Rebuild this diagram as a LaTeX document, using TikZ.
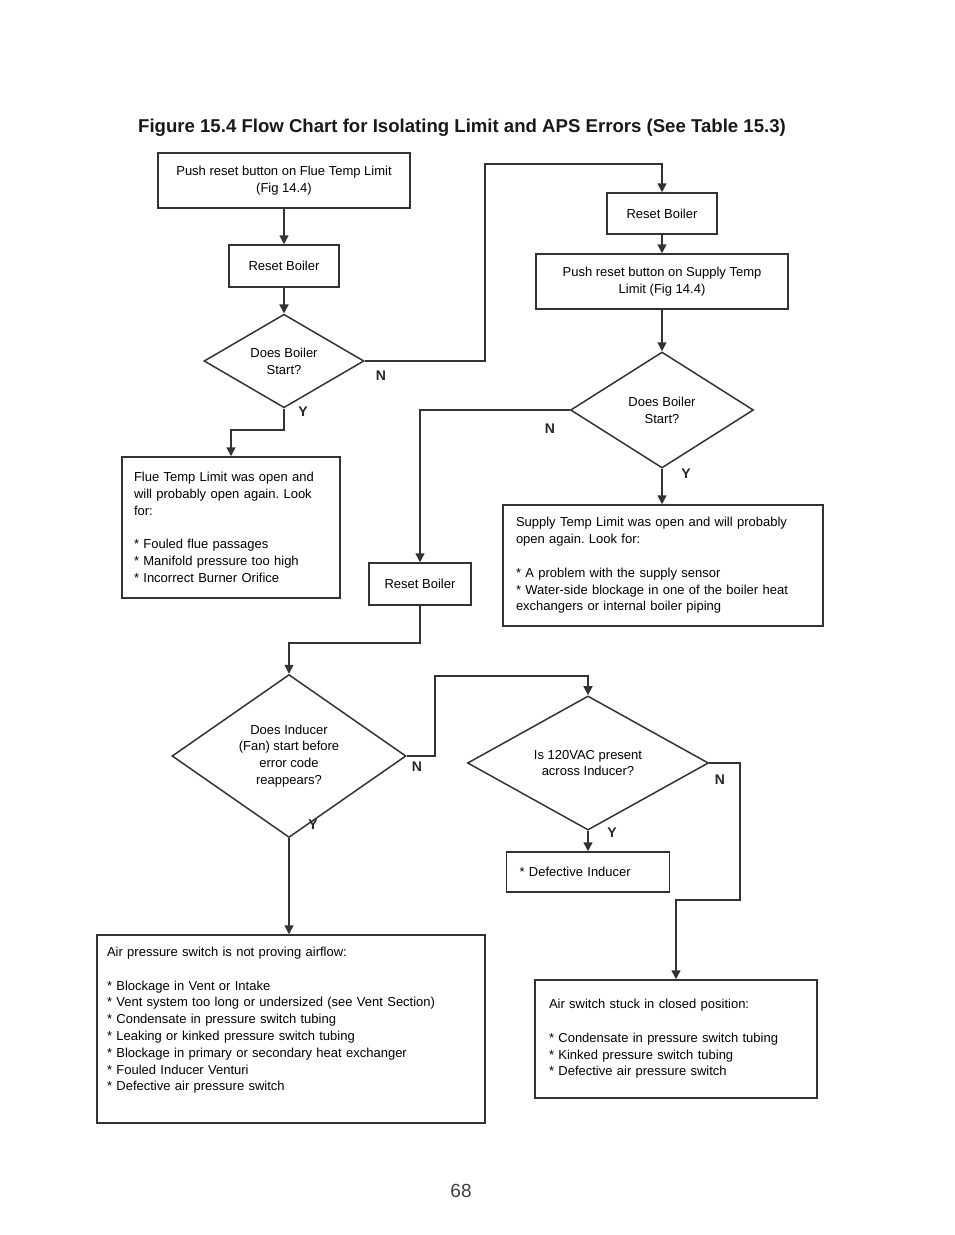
\documentclass[tikz,border=0pt]{standalone}
\usepackage{fontspec}
\setmainfont{Liberation Sans}
\usetikzlibrary{shapes.geometric,arrows.meta}
\frenchspacing
\begin{document}
\begin{tikzpicture}[x=1pt,y=-1pt,
  line/.style={draw=black!80,line width=1.5pt},
  arr/.style={line,-{Triangle[width=9pt,length=9pt]}},
  box/.style={draw=black!80,line width=1.5pt,rectangle,inner sep=0pt,font=\fontsize{13}{16.8}\selectfont\frenchspacing,align=center},
  tbox/.style={box,align=left},
  dia/.style={draw=black!80,line width=1.5pt,diamond,inner sep=0pt,font=\fontsize{13}{16.8}\selectfont,align=center},
  lab/.style={font=\bfseries\fontsize{14}{14}\selectfont,inner sep=0pt,text=black!85}]
\useasboundingbox[fill=white] (0,0) rectangle (954,1235);

\node[font=\bfseries\fontsize{18.6}{22}\selectfont,anchor=base,text=black!90] (title) at (462,132)
  {Figure 15.4 Flow Chart for Isolating Limit and APS Errors (See Table 15.3)};

% left column
\node[box,minimum width=252pt,minimum height=55pt] (A) at (284,180.5)
  {Push reset button on Flue Temp Limit\\(Fig 14.4)};
\node[box,minimum width=110pt,minimum height=42pt] (B) at (284,266) {Reset Boiler};
\node[dia,minimum width=160pt,minimum height=88pt] (D1) at (284,361) {Does Boiler\\Start?};
\node[tbox,minimum width=218pt,minimum height=141pt,text width=194pt,inner xsep=12pt] (FL) at (231,527.5)
  {Flue Temp Limit was open and\\will probably open again. Look\\for:\\[16.8pt]{*} Fouled flue passages\\{*} Manifold pressure too high\\{*} Incorrect Burner Orifice};

% right column
\node[box,minimum width=110pt,minimum height=41pt] (RB2) at (662,213.5) {Reset Boiler};
\node[box,minimum width=252pt,minimum height=55pt] (SP) at (662,281.5)
  {Push reset button on Supply Temp\\Limit (Fig 14.4)};
\node[dia,minimum width=183pt,minimum height=116pt] (D2) at (662,410) {Does Boiler\\Start?};
\node[tbox,minimum width=320pt,minimum height=121pt,text width=294pt,inner xsep=13pt] (ST) at (663,565.5)
  {Supply Temp Limit was open and will probably\\open again. Look for:\\[16.8pt]{*} A problem with the supply sensor\\{*} Water-side blockage in one of the boiler heat\\exchangers or internal boiler piping};
\node[box,minimum width=102pt,minimum height=42pt] (RB3) at (420,584) {Reset Boiler};

% lower part
\node[dia,minimum width=234pt,minimum height=141pt] (D3) at (289,756)
  {Does Inducer\\(Fan) start before\\error code\\reappears?};
\node[dia,minimum width=241pt,minimum height=115pt] (D4) at (588,763)
  {Is 120VAC present\\across Inducer?};
\node[tbox,minimum width=163pt,minimum height=40pt,text width=137pt,inner xsep=13pt] (DI) at (588,872)
  {{*} Defective Inducer};
\node[tbox,minimum width=388pt,minimum height=188pt,text width=368pt,inner xsep=10pt] (AP) at (291,1029)
  {Air pressure switch is not proving airflow:\\[16.8pt]{*} Blockage in Vent or Intake\\{*} Vent system too long or undersized (see Vent Section)\\{*} Condensate in pressure switch tubing\\{*} Leaking or kinked pressure switch tubing\\{*} Blockage in primary or secondary heat exchanger\\{*} Fouled Inducer Venturi\\{*} Defective air pressure switch\rule[-20pt]{0pt}{20pt}};
\node[tbox,minimum width=282pt,minimum height=118pt,text width=254pt,inner xsep=14pt] (AS) at (676,1039)
  {Air switch stuck in closed position:\\[16.8pt]{*} Condensate in pressure switch tubing\\{*} Kinked pressure switch tubing\\{*} Defective air pressure switch};

\node[font=\fontsize{19}{22}\selectfont,text=black!75,inner sep=0pt] (pg) at (461,1191) {68};

% bend points
\coordinate (c1) at (485,164);
\coordinate (c2) at (284,430);
\coordinate (c3) at (420,643);
\coordinate (c4) at (435,676);
\coordinate (c5) at (740,900);

% connectors
\draw[arr] (A) -- (B);
\draw[arr] (B) -- (D1);
\draw[arr] (D1.east) -| (c1) -| (RB2.north);
\draw[arr] (D1.south) -- (c2) -| (FL.north);
\draw[arr] (RB2) -- (SP);
\draw[arr] (SP) -- (D2);
\draw[arr] (D2.south) -- (D2.south |- ST.north);
\draw[arr] (D2.west) -| (RB3.north);
\draw[arr] (RB3.south) -- (c3) -| (D3.north);
\draw[arr] (D3.east) -| (c4) -| (D4.north);
\draw[arr] (D3.south) -- (D3.south |- AP.north);
\draw[arr] (D4.south) -- (DI.north);
\draw[arr] (D4.east) -| (c5) -| (AS.north);

% labels
\node[lab] (n1) at (381,376) {N};
\node[lab] (y1) at (303,412) {Y};
\node[lab] (n2) at (550,429) {N};
\node[lab] (y2) at (686,474) {Y};
\node[lab] (n3) at (417,767) {N};
\node[lab] (y3) at (313,825) {Y};
\node[lab] (n4) at (720,780) {N};
\node[lab] (y4) at (612,833) {Y};
\end{tikzpicture}
\end{document}
